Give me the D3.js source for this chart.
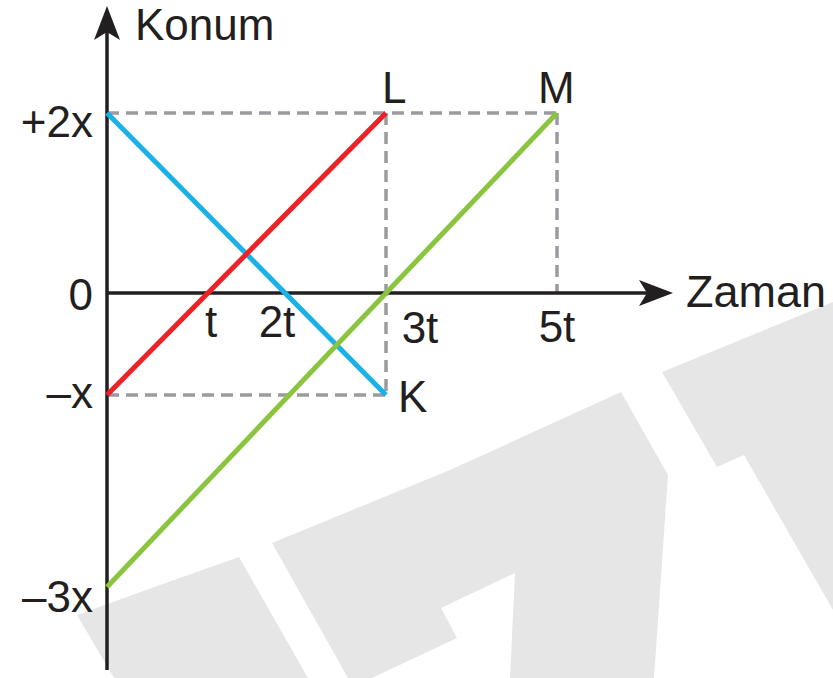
<!DOCTYPE html>
<html>
<head>
<meta charset="utf-8">
<script src="https://cdn.jsdelivr.net/npm/d3@7"></script>
<style>
  html, body { margin: 0; padding: 0; background: #fff; }
  svg { display: block; }
  text { font-family: "Liberation Sans", Arial, Helvetica, sans-serif; fill: #231f20; }
</style>
</head>
<body>
<svg width="833" height="678"></svg>
<script>
// DATA
const timeTicks = [1, 2, 3, 5];
const timeLabels = ['t', '2t', '3t', '5t'];
const posTicks = [2, 0, -1, -3];
const posLabels = ['+2x', '0', '–x', '–3x'];

const seriesNames = ['K', 'L', 'M'];
const seriesColors = ['#1bb1e7', '#ec2227', '#8bc540'];
const kPoints = [[0, 2], [3, -1]];
const lPoints = [[0, -1], [3, 2]];
const mPoints = [[0, -3], [5, 2]];

// dashed guide lines (time, position) pairs
const guides = [
  [[0, 2], [5, 2]],
  [[0, -1], [3, -1]],
  [[3, 2], [3, -1]],
  [[5, 2], [5, 0]]
];

const svg = d3.select('svg');

// watermark in the background
const wm = [
  [[77,615],[160,585],[239,557],[308,678],[114,678]],
  [[272,543],[450,470],[621,392],[668,475],[654,678],[510,678],[515,573],[441,608],[457,638],[372,678],[348,678]],
  [[662,372],[750,336],[833,302],[833,610],[744,455],[717,467]]
];
svg.append('g').selectAll('path')
  .data(wm)
  .enter().append('path')
  .attr('d', d => d3.line()(d) + 'Z')
  .attr('fill', '#e6e6e6');

// the drawing is not to scale, so piecewise scales
const xScale = d3.scaleLinear().domain([0, 3, 5]).range([107, 386, 557]);
const yScale = d3.scaleLinear().domain([-3, -1, 0, 2]).range([587, 395, 293, 113]);

const lineGen = d3.line().x(d => xScale(d[0])).y(d => yScale(d[1]));

// guides
svg.append('g').selectAll('path')
  .data(guides)
  .enter().append('path')
  .attr('d', d => lineGen(d))
  .attr('fill', 'none')
  .attr('stroke', '#9b9b9f')
  .attr('stroke-width', 3.5)
  .attr('stroke-dasharray', '12 7');

// axes
const axisG = svg.append('g');
axisG.append('line')
  .attr('x1', xScale(0)).attr('x2', 660)
  .attr('y1', yScale(0)).attr('y2', yScale(0))
  .attr('stroke', '#231f20').attr('stroke-width', 3.5);
axisG.append('line')
  .attr('x1', xScale(0)).attr('x2', xScale(0))
  .attr('y1', 670).attr('y2', 20)
  .attr('stroke', '#231f20').attr('stroke-width', 3.5);

const arrowD = 'M0,0 L13,34 L0,26 L-13,34 Z';
axisG.append('path')
  .attr('d', arrowD)
  .attr('transform', `translate(${xScale(0)},6)`)
  .attr('fill', '#231f20');
axisG.append('path')
  .attr('d', arrowD)
  .attr('transform', `translate(673,${yScale(0)}) rotate(90)`)
  .attr('fill', '#231f20');

// motion lines
const allSeries = [kPoints, lPoints, mPoints];
svg.append('g').selectAll('path')
  .data(allSeries)
  .enter().append('path')
  .attr('d', d => lineGen(d))
  .attr('fill', 'none')
  .attr('stroke', (d, i) => seriesColors[i])
  .attr('stroke-width', 5)
  .attr('stroke-linecap', 'butt');

// tick labels
const timeDx = [11, -16, 34, 0];
const timeDy = [44, 44, 50, 49];
svg.append('g').selectAll('text')
  .data(timeTicks)
  .enter().append('text')
  .attr('x', (d, i) => xScale(d) + timeDx[i])
  .attr('y', (d, i) => yScale(0) + timeDy[i])
  .attr('text-anchor', 'middle')
  .attr('font-size', 44)
  .text((d, i) => timeLabels[i]);

const posDy = [24, 17, 13, 25];
svg.append('g').selectAll('text')
  .data(posTicks)
  .enter().append('text')
  .attr('x', 93)
  .attr('y', (d, i) => yScale(d) + posDy[i])
  .attr('text-anchor', 'end')
  .attr('font-size', 44)
  .text((d, i) => posLabels[i]);

// end point names
const nameAt = [kPoints[1], lPoints[1], mPoints[1]];
const nameDx = [12, -4, -19];
const nameDy = [17, -10, -10];
svg.append('g').selectAll('text')
  .data(nameAt)
  .enter().append('text')
  .attr('x', (d, i) => xScale(d[0]) + nameDx[i])
  .attr('y', (d, i) => yScale(d[1]) + nameDy[i])
  .attr('font-size', 44)
  .text((d, i) => seriesNames[i]);

// axis titles
svg.append('text')
  .attr('x', 135).attr('y', 40)
  .attr('font-size', 44)
  .text('Konum');
svg.append('text')
  .attr('x', 686).attr('y', 307)
  .attr('font-size', 45)
  .text('Zaman');
</script>
</body>
</html>
